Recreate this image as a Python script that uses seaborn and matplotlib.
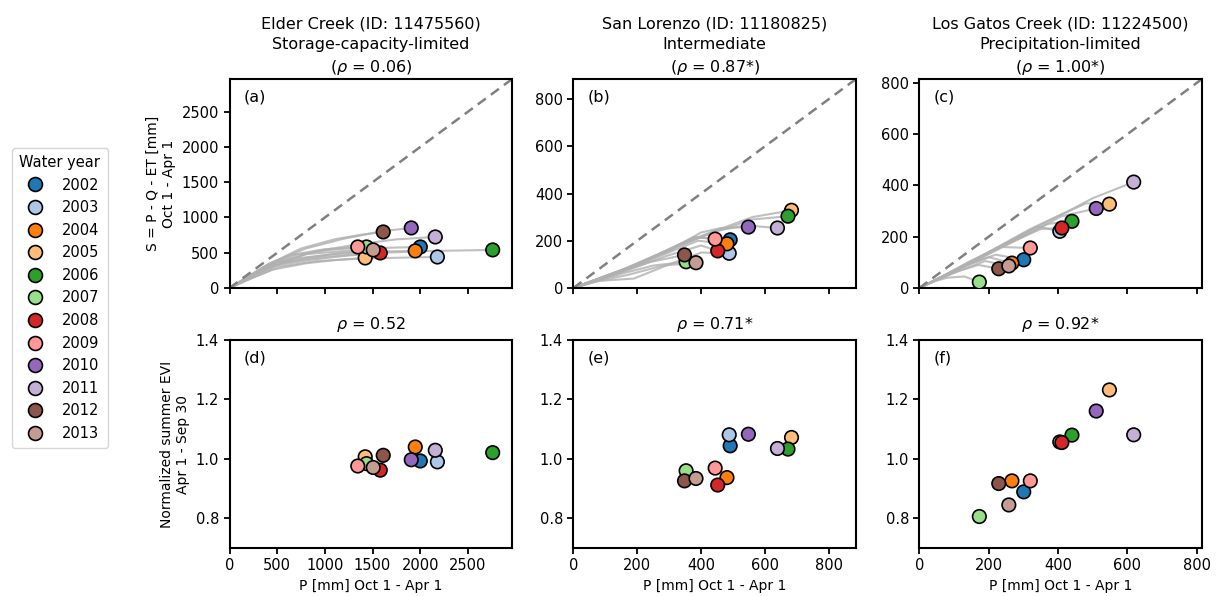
import matplotlib
matplotlib.use('Agg')
import matplotlib.pyplot as plt
from matplotlib.lines import Line2D
import seaborn as sns
import pandas as pd

years = [2002, 2003, 2004, 2005, 2006, 2007, 2008, 2009, 2010, 2011, 2012, 2013]

# end-of-season values (P, S) and summer EVI per site
elder_p = [2001, 2180, 1948, 1423, 2760, 1437, 1581, 1345, 1906, 2158, 1612, 1507]
elder_s = [582, 440, 526, 426, 540, 582, 497, 582, 852, 724, 795, 540]
elder_evi = [0.993, 0.990, 1.040, 1.007, 1.021, 0.984, 0.962, 0.976, 0.997, 1.029, 1.012, 0.971]

sanlo_p = [491, 488, 481, 683, 672, 353, 452, 444, 548, 639, 348, 384]
sanlo_s = [204, 147, 187, 329, 304, 111, 157, 207, 258, 254, 140, 107]
sanlo_evi = [1.044, 1.081, 0.937, 1.072, 1.033, 0.960, 0.912, 0.969, 1.083, 1.035, 0.926, 0.934]

gatos_p = [301, 405, 267, 548, 440, 173, 411, 320, 510, 618, 229, 258]
gatos_s = [110, 221, 97, 327, 260, 23, 234, 156, 310, 413, 75, 86]
gatos_evi = [0.889, 1.057, 0.926, 1.232, 1.080, 0.806, 1.055, 0.926, 1.161, 1.081, 0.917, 0.845]

# cumulative trajectories (rough waypoints)
elder_path_p = [[0, 180, 420, 800, 1250, 1650, 2001],
                [0, 250, 520, 900, 1400, 1800, 2180],
                [0, 150, 380, 700, 1100, 1500, 1948],
                [0, 200, 450, 800, 1100, 1423],
                [0, 220, 550, 1000, 1500, 2100, 2760],
                [0, 160, 400, 700, 1050, 1437],
                [0, 230, 500, 850, 1200, 1581],
                [0, 140, 360, 650, 1000, 1345],
                [0, 170, 420, 800, 1200, 1600, 1906],
                [0, 200, 500, 900, 1350, 1750, 2158],
                [0, 150, 400, 750, 1100, 1380, 1612],
                [0, 190, 430, 780, 1150, 1507]]
elder_path_s = [[0, 140, 320, 480, 530, 570, 582],
                [0, 150, 300, 380, 420, 430, 440],
                [0, 110, 280, 420, 480, 515, 526],
                [0, 120, 260, 350, 395, 426],
                [0, 160, 360, 440, 495, 525, 540],
                [0, 130, 320, 470, 540, 582],
                [0, 160, 320, 400, 455, 497],
                [0, 115, 300, 470, 550, 582],
                [0, 140, 350, 560, 700, 805, 852],
                [0, 150, 350, 520, 620, 690, 724],
                [0, 125, 330, 560, 690, 755, 795],
                [0, 140, 310, 420, 495, 540]]

sanlo_path_p = [[0, 60, 150, 260, 380, 491],
                [0, 80, 190, 300, 400, 488],
                [0, 70, 170, 280, 390, 481],
                [0, 90, 220, 360, 470, 560, 683],
                [0, 80, 200, 330, 450, 560, 672],
                [0, 60, 150, 250, 353],
                [0, 70, 170, 290, 400, 452],
                [0, 60, 160, 270, 380, 444],
                [0, 70, 180, 300, 400, 462, 548],
                [0, 90, 210, 330, 440, 540, 639],
                [0, 50, 140, 240, 348],
                [0, 70, 170, 280, 384]]
sanlo_path_s = [[0, 30, 75, 140, 215, 204],
                [0, 30, 40, 100, 150, 147],
                [0, 30, 80, 140, 200, 187],
                [0, 45, 110, 200, 255, 300, 329],
                [0, 40, 100, 180, 240, 290, 304],
                [0, 25, 60, 95, 111],
                [0, 30, 75, 135, 180, 157],
                [0, 30, 80, 145, 215, 207],
                [0, 35, 90, 160, 235, 254, 258],
                [0, 45, 105, 175, 240, 265, 254],
                [0, 25, 65, 110, 140],
                [0, 28, 55, 95, 107]]

gatos_path_p = [[0, 60, 140, 220, 301],
                [0, 70, 160, 260, 340, 405],
                [0, 50, 120, 200, 267],
                [0, 80, 180, 290, 400, 480, 548],
                [0, 70, 170, 270, 370, 440],
                [0, 40, 80, 130, 173],
                [0, 60, 150, 250, 350, 411],
                [0, 60, 140, 230, 320],
                [0, 80, 190, 300, 410, 510],
                [0, 90, 200, 320, 430, 500, 618],
                [0, 40, 100, 170, 229],
                [0, 50, 120, 190, 258]]
gatos_path_s = [[0, 40, 90, 130, 110],
                [0, 45, 110, 180, 240, 221],
                [0, 35, 80, 120, 97],
                [0, 55, 125, 205, 280, 330, 327],
                [0, 45, 115, 185, 250, 260],
                [0, 25, 40, 45, 23],
                [0, 40, 100, 170, 230, 234],
                [0, 40, 100, 160, 156],
                [0, 50, 125, 200, 280, 310],
                [0, 60, 140, 230, 300, 350, 413],
                [0, 25, 60, 90, 75],
                [0, 30, 70, 105, 86]]

titles_top = ['Elder Creek (ID: 11475560)\nStorage-capacity-limited\n($\\rho$ = 0.06)',
              'San Lorenzo (ID: 11180825)\nIntermediate\n($\\rho$ = 0.87*)',
              'Los Gatos Creek (ID: 11224500)\nPrecipitation-limited\n($\\rho$ = 1.00*)']
titles_bottom = ['$\\rho$ = 0.52', '$\\rho$ = 0.71*', '$\\rho$ = 0.92*']
panel_top = ['(a)', '(b)', '(c)']
panel_bottom = ['(d)', '(e)', '(f)']
limits = [2965, 885, 815]
xticks = [[0, 500, 1000, 1500, 2000, 2500], [0, 200, 400, 600, 800], [0, 200, 400, 600, 800]]
yticks_top = [[0, 500, 1000, 1500, 2000, 2500], [0, 200, 400, 600, 800], [0, 200, 400, 600, 800]]

sites = [
    (elder_p, elder_s, elder_evi, elder_path_p, elder_path_s),
    (sanlo_p, sanlo_s, sanlo_evi, sanlo_path_p, sanlo_path_s),
    (gatos_p, gatos_s, gatos_evi, gatos_path_p, gatos_path_s),
]

sns.set_style('ticks', {'axes.edgecolor': 'black', 'text.color': 'black',
                        'axes.labelcolor': 'black', 'xtick.color': 'black',
                        'ytick.color': 'black'})
plt.rcParams['font.family'] = ['DejaVu Sans']
palette = sns.color_palette('tab20', 20)[:12]

fig = plt.figure(figsize=(12.17, 5.96), dpi=100)
lefts = [0.1886, 0.4711, 0.7554]
w = 0.2323

for i, (p, s, evi, pp, ps) in enumerate(sites):
    df = pd.DataFrame({'year': years, 'P': p, 'S': s, 'EVI': evi})
    lim = limits[i]

    # top row: storage vs precipitation
    ax = fig.add_axes([lefts[i], 0.5168, w, 0.3507])
    for k in range(len(years)):
        ax.plot(pp[k], ps[k], color='#b0b0b0', alpha=0.8, lw=1.5, zorder=1)
    ax.plot([0, lim], [0, lim], ls='--', color='gray', lw=1.8, dashes=(4, 2.5), zorder=2)
    sns.scatterplot(data=df, x='P', y='S', hue='year', hue_order=years, palette=palette,
                    s=95, edgecolor='black', linewidth=1.2, legend=False, zorder=3, ax=ax)
    ax.set_xlim(0, lim)
    ax.set_ylim(0, lim)
    ax.set_xticks(xticks[i])
    ax.set_yticks(yticks_top[i])
    ax.set_xticklabels([])
    ax.set_xlabel('')
    ax.set_ylabel('')
    ax.set_title(titles_top[i], fontsize=11.5, linespacing=1.45, pad=5)
    ax.text(0.05, 0.95, panel_top[i], transform=ax.transAxes, fontsize=11.5, va='top')
    if i == 0:
        ax.set_ylabel('S = P - Q - ET [mm]\nOct 1 - Apr 1', fontsize=10)
    for sp in ax.spines.values():
        sp.set_linewidth(1.5)
    ax.tick_params(labelsize=10.5, width=1.3, length=4)

    # bottom row: summer EVI vs precipitation
    ax2 = fig.add_axes([lefts[i], 0.0805, w, 0.349])
    sns.scatterplot(data=df, x='P', y='EVI', hue='year', hue_order=years, palette=palette,
                    s=95, edgecolor='black', linewidth=1.2, legend=False, zorder=3, ax=ax2)
    ax2.set_xlim(0, lim)
    ax2.set_ylim(0.7, 1.4)
    ax2.set_xticks(xticks[i])
    ax2.set_yticks([0.8, 1.0, 1.2, 1.4])
    ax2.set_xlabel('P [mm] Oct 1 - Apr 1', fontsize=10)
    ax2.set_ylabel('')
    ax2.set_title(titles_bottom[i], fontsize=11.5, pad=8)
    ax2.text(0.05, 0.95, panel_bottom[i], transform=ax2.transAxes, fontsize=11.5, va='top')
    if i == 0:
        ax2.set_ylabel('Normalized summer EVI\nApr 1 - Sep 30', fontsize=10)
    for sp in ax2.spines.values():
        sp.set_linewidth(1.5)
    ax2.tick_params(labelsize=10.5, width=1.3, length=4)

handles = [Line2D([], [], marker='o', ls='', markersize=10, markerfacecolor=palette[k],
                  markeredgecolor='black', markeredgewidth=1.2) for k in range(len(years))]
fig.legend(handles, [str(y) for y in years], title='Water year', loc='center left',
           bbox_to_anchor=(0.004, 0.5), fontsize=10.5, title_fontsize=10.5,
           labelspacing=0.52, handletextpad=0.9, borderpad=0.5)

fig.savefig('out.png', dpi=100)
